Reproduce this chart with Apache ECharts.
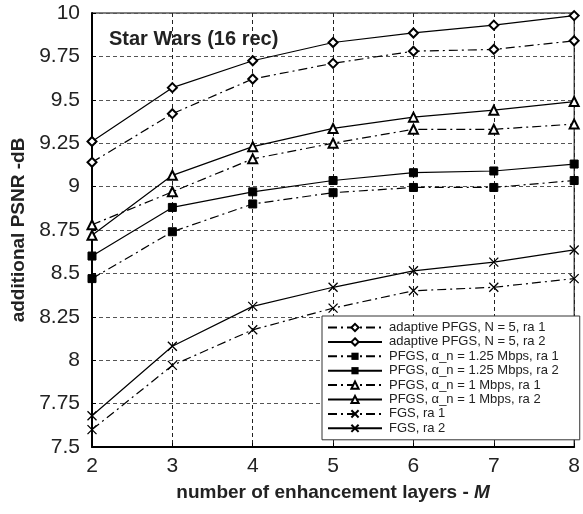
<!DOCTYPE html>
<html><head><meta charset="utf-8">
<script src="https://cdn.jsdelivr.net/npm/echarts@6/dist/echarts.min.js"></script>
<style>html,body{margin:0;padding:0;background:#fff}#c{width:583px;height:514px}</style>
</head><body><div id="c"></div>
<script>
const layers = [2, 3, 4, 5, 6, 7, 8];
const adaptiveRa1 = [9.14, 9.42, 9.62, 9.71, 9.78, 9.79, 9.84];
const adaptiveRa2 = [9.26, 9.57, 9.725, 9.83, 9.885, 9.93, 9.985];
const pfgs125Ra1 = [8.47, 8.74, 8.90, 8.965, 8.995, 8.995, 9.035];
const pfgs125Ra2 = [8.60, 8.88, 8.97, 9.035, 9.08, 9.09, 9.13];
const pfgs1Ra1 = [8.78, 8.97, 9.16, 9.25, 9.33, 9.33, 9.36];
const pfgs1Ra2 = [8.72, 9.065, 9.23, 9.335, 9.40, 9.44, 9.49];
const fgsRa1 = [7.60, 7.97, 8.175, 8.30, 8.40, 8.42, 8.47];
const fgsRa2 = [7.68, 8.08, 8.31, 8.42, 8.515, 8.565, 8.635];
const seriesNames = [
  'adaptive PFGS, N = 5, ra 1',
  'adaptive PFGS, N = 5, ra 2',
  'PFGS, \u03b1_n = 1.25 Mbps, ra 1',
  'PFGS, \u03b1_n = 1.25 Mbps, ra 2',
  'PFGS, \u03b1_n = 1 Mbps, ra 1',
  'PFGS, \u03b1_n = 1 Mbps, ra 2',
  'FGS, ra 1',
  'FGS, ra 2'
];
const yTicks = [7.5, 7.75, 8, 8.25, 8.5, 8.75, 9, 9.25, 9.5, 9.75, 10];

const FONT = 'Liberation Sans, Arial, sans-serif';
const dashDot = [9, 4, 2, 4];
const X = 'path://M0,0L10,10M10,0L0,10';
const defs = [
  [adaptiveRa1, 'emptyDiamond', dashDot, 9],
  [adaptiveRa2, 'emptyDiamond', 'solid', 9],
  [pfgs125Ra1, 'rect', dashDot, 8],
  [pfgs125Ra2, 'rect', 'solid', 8],
  [pfgs1Ra1, 'emptyTriangle', dashDot, 9],
  [pfgs1Ra2, 'emptyTriangle', 'solid', 9],
  [fgsRa1, X, dashDot, 9],
  [fgsRa2, X, 'solid', 9]
];
const series = defs.map((d, i) => ({
  name: seriesNames[i],
  type: 'line',
  data: layers.map((x, j) => [x, d[0][j]]),
  symbol: d[1],
  symbolSize: d[3],
  showAllSymbol: true,
  lineStyle: { color: '#000', width: 1.2, type: d[2] },
  itemStyle: d[1] === X ? { color: 'rgba(0,0,0,0)', borderColor: '#000', borderWidth: 1.3 }
           : (d[1] === 'rect' ? { color: '#000', borderColor: '#000' } : { color: '#000', borderColor: '#000', borderWidth: 1.2 }),
  emphasis: { disabled: true },
  animation: false,
  z: 3
}));

const chart = echarts.init(document.getElementById('c'), null, { renderer: 'canvas' });
chart.setOption({
  backgroundColor: '#fff',
  animation: false,
  textStyle: { fontFamily: FONT },
  title: {
    text: 'Star Wars (16 rec)',
    left: 104, top: 24,
    textStyle: { fontSize: 20, fontWeight: 'bold', color: '#222', fontFamily: FONT }
  },
  grid: {
    left: 92, right: 5, top: 13, bottom: 67,
    show: true, borderColor: '#000', borderWidth: 1, backgroundColor: 'transparent'
  },
  legend: {
    orient: 'vertical',
    left: 322, top: 316,
    padding: [5, 21, 5, 5],
    itemWidth: 54, itemHeight: 9, itemGap: 1.4,
    backgroundColor: '#fff',
    borderColor: '#333', borderWidth: 1,
    textStyle: { fontSize: 13, lineHeight: 13, color: '#222', fontFamily: FONT, padding: [0, 0, 0, 2] },
    data: seriesNames.map(n => ({ name: n }))
  },
  xAxis: {
    type: 'value', min: 2, max: 8, interval: 1,
    name: '{b|number of enhancement layers - }{i|M}',
    nameLocation: 'middle', nameGap: 36,
    nameTextStyle: {
      rich: {
        b: { fontSize: 19, fontWeight: 'bold', color: '#222', fontFamily: FONT },
        i: { fontSize: 19, fontWeight: 'bold', fontStyle: 'italic', color: '#222', fontFamily: FONT }
      }
    },
    axisLine: { lineStyle: { color: '#000', width: 2 } },
    axisTick: { inside: true, length: 4, lineStyle: { color: '#000' } },
    axisLabel: { fontSize: 21, color: '#222', margin: 9 },
    splitLine: { show: true, lineStyle: { color: '#222', type: [4, 3], width: 1 } }
  },
  yAxis: {
    type: 'value', min: 7.5, max: 10, interval: 0.25,
    name: 'additional PSNR -dB',
    nameLocation: 'middle', nameGap: 64, nameRotate: 90,
    nameTextStyle: { fontSize: 19, fontWeight: 'bold', color: '#222', fontFamily: FONT },
    axisLine: { show: true, lineStyle: { color: '#000', width: 2 } },
    axisTick: { show: true, inside: true, length: 4, lineStyle: { color: '#000' } },
    axisLabel: { fontSize: 21, color: '#222', margin: 12, formatter: v => yTicks.includes(v) ? String(v) : '' },
    splitLine: { show: true, lineStyle: { color: '#555', type: [4, 3], width: 1 } }
  },
  series: series
});
</script>
</body></html>
